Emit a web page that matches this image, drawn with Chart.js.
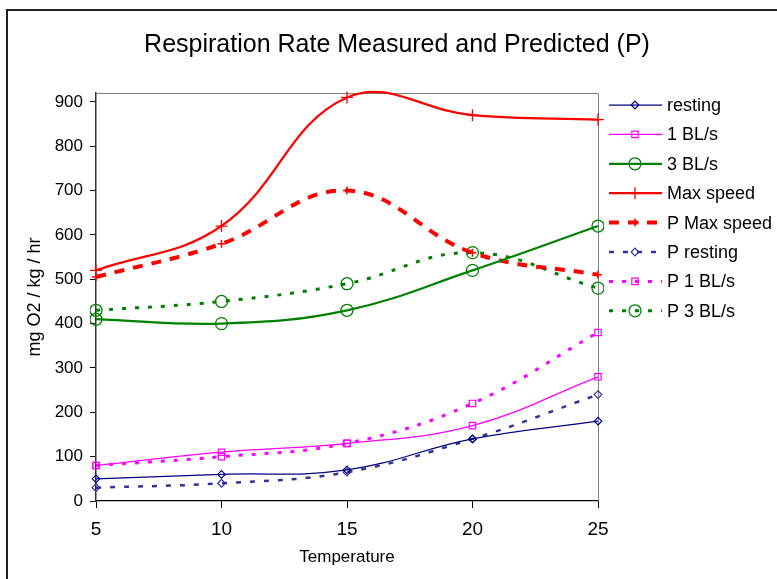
<!DOCTYPE html>
<html><head><meta charset="utf-8">
<script src="https://cdn.jsdelivr.net/npm/chart.js@4.4.1/dist/chart.umd.min.js"></script>
<style>html,body{margin:0;padding:0;background:#fff;overflow:hidden}#wrap{width:777px;height:579px;position:relative}</style>
</head><body><div id="wrap"><canvas id="c" width="777" height="579"></canvas></div>
<script>
// ---- data ----
const temperatures = ['5', '10', '15', '20', '25'];
const resting   = [50, 60, 70, 140, 180];
const bl1       = [80, 110, 130, 170, 280];
const bl3       = [410, 400, 430, 520, 620];
const maxSpeed  = [520, 620, 910, 870, 860];
const pMaxSpeed = [505, 580, 700, 560, 510];
const pResting  = [30, 40, 65, 140, 240];
const pBl1      = [80, 100, 130, 220, 380];
const pBl3      = [430, 450, 490, 560, 480];
const yTickValues = [0, 100, 200, 300, 400, 500, 600, 700, 800, 900];
const chartTitle = 'Respiration Rate Measured and Predicted (P)';
const xTitle = 'Temperature';
const yTitle = 'mg O2 / kg / hr';

const FONT = "'Liberation Sans', Arial, sans-serif";
Chart.defaults.font.family = FONT;
Chart.defaults.color = '#000';

function ds(label, data, color, width, dash, style, radius, pbw) {
  return {
    label, data, borderColor: color, borderWidth: width, borderDash: dash,
    pointStyle: style, pointRadius: radius, pointHoverRadius: radius,
    pointBorderColor: color, pointBackgroundColor: 'rgba(0,0,0,0)',
    pointBorderWidth: pbw, tension: 0.4, fill: false, clip: 6
  };
}

const datasets = [
  ds('resting', resting, '#000080', 1.25, [], 'rectRot', 3.8, 1.2),
  ds('1 BL/s', bl1, '#FF00FF', 1.25, [], 'rect', 4.5, 1.2),
  ds('3 BL/s', bl3, '#008000', 2.25, [], 'circle', 6, 1.3),
  ds('Max speed', maxSpeed, '#FF0000', 2.25, [], 'cross', 6, 1.3),
  ds('P Max speed', pMaxSpeed, '#FF0000', 4, [10, 9], 'cross', 4, 1.5),
  ds('P resting', pResting, '#333399', 2.5, [5, 9], 'rectRot', 3.8, 1.2),
  ds('P 1 BL/s', pBl1, '#FF00FF', 3, [4, 9], 'rect', 4.5, 1.2),
  ds('P 3 BL/s', pBl3, '#008000', 3, [4, 9], 'circle', 6, 1.3)
];

const decor = {
  id: 'decor',
  beforeDraw(chart) {
    const ctx = chart.ctx;
    ctx.save();
    ctx.fillStyle = '#fff';
    ctx.fillRect(0, 0, chart.width, chart.height);
    ctx.strokeStyle = '#222';
    ctx.lineWidth = 2;
    ctx.beginPath();
    ctx.moveTo(7, chart.height);
    ctx.lineTo(7, 10);
    ctx.lineTo(chart.width, 10);
    ctx.stroke();
    ctx.restore();
  },
  beforeDatasetsDraw(chart) {
    const {ctx, chartArea: a} = chart;
    ctx.save();
    ctx.strokeStyle = '#808080';
    ctx.lineWidth = 1;
    ctx.beginPath();
    ctx.moveTo(a.left, a.top + 0.5);
    ctx.lineTo(a.right + 0.5, a.top + 0.5);
    ctx.lineTo(a.right + 0.5, a.bottom);
    ctx.stroke();
    ctx.restore();
  },
  afterDraw(chart) {
    const ctx = chart.ctx;
    ctx.save();
    // title
    ctx.fillStyle = '#000';
    ctx.font = '25px ' + FONT;
    ctx.textAlign = 'center';
    ctx.textBaseline = 'middle';
    ctx.fillText(chartTitle, 397, 45);
    // legend
    ctx.font = '18px ' + FONT;
    ctx.textAlign = 'left';
    chart.data.datasets.forEach((d, i) => {
      const y = 105 + i * 29.4;
      ctx.save();
      ctx.strokeStyle = d.borderColor;
      ctx.lineWidth = d.borderWidth;
      ctx.setLineDash(d.borderDash || []);
      ctx.beginPath();
      ctx.moveTo(609, y);
      ctx.lineTo(662, y);
      ctx.stroke();
      ctx.setLineDash([]);
      ctx.strokeStyle = d.pointBorderColor;
      ctx.fillStyle = d.pointBackgroundColor;
      ctx.lineWidth = d.pointBorderWidth;
      Chart.helpers.drawPoint(ctx, {pointStyle: d.pointStyle, radius: d.pointRadius, rotation: 0, borderWidth: d.pointBorderWidth}, 635, y);
      ctx.restore();
      ctx.fillStyle = '#000';
      ctx.fillText(d.label, 667, y + 1);
    });
    ctx.restore();
  }
};

new Chart(document.getElementById('c'), {
  type: 'line',
  data: { labels: temperatures, datasets },
  plugins: [decor],
  options: {
    responsive: false,
    animation: false,
    events: [],
    layout: { padding: { left: 0, top: 93, right: 179, bottom: 0 } },
    elements: { line: { capBezierPoints: false } },
    plugins: { legend: { display: false }, title: { display: false }, tooltip: { enabled: false } },
    scales: {
      x: {
        type: 'category',
        offset: false,
        afterFit(s) { s.height = 78; },
        grid: { drawOnChartArea: false, drawTicks: true, tickLength: 7, color: '#000', offset: false },
        border: { color: '#000', width: 1.2 },
        ticks: { font: { size: 19 }, padding: 10, maxRotation: 0, color: '#000' },
        title: { display: true, text: xTitle, font: { size: 17 }, padding: { top: 0, bottom: 11 }, color: '#000' }
      },
      y: {
        type: 'linear',
        min: 0, max: 920,
        afterFit(s) { s.width = 96; },
        afterBuildTicks(s) { s.ticks = yTickValues.map(v => ({ value: v })); },
        grid: { drawOnChartArea: false, drawTicks: true, tickLength: 6, color: '#000' },
        border: { color: '#333', width: 1.5 },
        ticks: { font: { size: 17 }, padding: 7, color: '#000' },
        title: { display: true, text: yTitle, font: { size: 18 }, padding: { top: 24, bottom: 0 }, color: '#000' }
      }
    }
  }
});
</script></body></html>
